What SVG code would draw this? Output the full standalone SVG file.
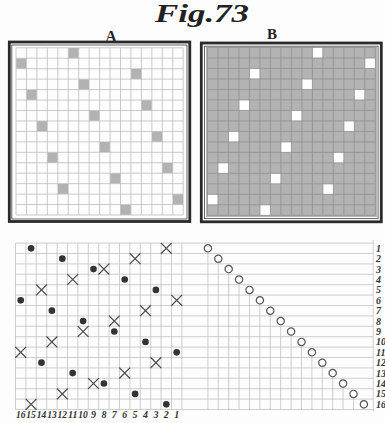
<svg xmlns="http://www.w3.org/2000/svg" xmlns:xlink="http://www.w3.org/1999/xlink" width="385" height="423" viewBox="0 0 385 423">
<style>
.frame{fill:none;stroke:#2a2a2a;stroke-width:2.8}
.inner{fill:none;stroke:#555;stroke-width:0.9}
.gridA{fill:none;stroke:#b4b4b4;stroke-width:0.7}
.gridB{fill:none;stroke:#8c8c8c;stroke-width:0.7}
.gridD{fill:none;stroke:#bababa;stroke-width:0.7}
.shade{fill:#b2b2b2}
.hole{fill:#ffffff}
.dot{fill:#333333}
.cross{fill:none;stroke:#4a4a4a;stroke-width:1.2}
.ring{fill:#ffffff;stroke:#555555;stroke-width:1.2}
.title{font-family:"Liberation Serif",serif;font-weight:bold;font-style:italic;fill:#222}
.letter{font-family:"Liberation Serif",serif;font-weight:bold;fill:#222}
.num{font-family:"Liberation Serif",serif;font-weight:bold;font-style:italic;font-size:10px;fill:#333}
</style>
<defs>
<path id="grid16" vector-effect="non-scaling-stroke" d="M0 0H16M0 1H16M0 2H16M0 3H16M0 4H16M0 5H16M0 6H16M0 7H16M0 8H16M0 9H16M0 10H16M0 11H16M0 12H16M0 13H16M0 14H16M0 15H16M0 16H16M0 0V16M1 0V16M2 0V16M3 0V16M4 0V16M5 0V16M6 0V16M7 0V16M8 0V16M9 0V16M10 0V16M11 0V16M12 0V16M13 0V16M14 0V16M15 0V16M16 0V16"/>
<path id="x" vector-effect="non-scaling-stroke" d="M-0.52 -0.52L0.52 0.52M0.52 -0.52L-0.52 0.52"/>
<circle id="d" r="0.32"/>
<circle id="o" r="0.35" vector-effect="non-scaling-stroke"/>
<rect id="sq" x="0.02" y="0.02" width="0.96" height="0.96"/>
</defs>
<rect width="385" height="423" fill="#fdfdfd"/>

<g id="title">
<text class="title" x="155" y="22" font-size="25" textLength="94" lengthAdjust="spacingAndGlyphs">Fig.73</text>
<text class="letter" x="111" y="41.8" font-size="16" text-anchor="middle">A</text>
<text class="letter" x="272" y="39.3" font-size="15" text-anchor="middle">B</text>
</g>

<g id="panel-a">
<rect class="frame" x="9.3" y="42" width="180.5" height="179.5"/>
<rect class="inner" x="11.8" y="45" width="175.2" height="174"/>
<g transform="translate(16,47.8) scale(10.45)">
<g class="shade">
<use xlink:href="#sq" x="5" y="0"/><use xlink:href="#sq" x="0" y="1"/><use xlink:href="#sq" x="11" y="2"/><use xlink:href="#sq" x="6" y="3"/>
<use xlink:href="#sq" x="1" y="4"/><use xlink:href="#sq" x="12" y="5"/><use xlink:href="#sq" x="7" y="6"/><use xlink:href="#sq" x="2" y="7"/>
<use xlink:href="#sq" x="13" y="8"/><use xlink:href="#sq" x="8" y="9"/><use xlink:href="#sq" x="3" y="10"/><use xlink:href="#sq" x="14" y="11"/>
<use xlink:href="#sq" x="9" y="12"/><use xlink:href="#sq" x="4" y="13"/><use xlink:href="#sq" x="15" y="14"/><use xlink:href="#sq" x="10" y="15"/>
</g>
<use xlink:href="#grid16" class="gridA"/>
</g>
</g>

<g id="panel-b">
<rect class="frame" x="201.3" y="43" width="180" height="178.8"/>
<rect class="inner" x="204.5" y="46.2" width="173.6" height="172.4"/>
<rect x="206" y="47" width="171" height="170" fill="#b3b3b3"/>
<g transform="translate(207.5,47.5) scale(10.49)">
<g class="hole">
<use xlink:href="#sq" x="10" y="0"/><use xlink:href="#sq" x="15" y="1"/><use xlink:href="#sq" x="4" y="2"/><use xlink:href="#sq" x="9" y="3"/>
<use xlink:href="#sq" x="14" y="4"/><use xlink:href="#sq" x="3" y="5"/><use xlink:href="#sq" x="8" y="6"/><use xlink:href="#sq" x="13" y="7"/>
<use xlink:href="#sq" x="2" y="8"/><use xlink:href="#sq" x="7" y="9"/><use xlink:href="#sq" x="12" y="10"/><use xlink:href="#sq" x="1" y="11"/>
<use xlink:href="#sq" x="6" y="12"/><use xlink:href="#sq" x="11" y="13"/><use xlink:href="#sq" x="0" y="14"/><use xlink:href="#sq" x="5" y="15"/>
</g>
<use xlink:href="#grid16" class="gridB"/>
</g>
</g>

<g id="draft" transform="translate(15.5,243.1) scale(10.4)">
<use xlink:href="#grid16" class="gridD"/>
<path class="gridD" vector-effect="non-scaling-stroke" d="M16 0H34.4M16 1H34.4M16 2H34.4M16 3H34.4M16 4H34.4M16 5H34.4M16 6H34.4M16 7H34.4M16 8H34.4M16 9H34.4M16 10H34.4M16 11H34.4M16 12H34.4M16 13H34.4M16 14H34.4M16 15H34.4M16 16H34.4M34.4 -0.3V16.2"/>
<path class="gridD" vector-effect="non-scaling-stroke" d="M18.5 0.85V16M19.5 1.85V16M20.5 2.85V16M21.5 3.85V16M22.5 4.85V16M23.5 5.85V16M24.5 6.85V16M25.5 7.85V16M26.5 8.85V16M27.5 9.85V16M28.5 10.85V16M29.5 11.85V16M30.5 12.85V16M31.5 13.85V16M32.5 14.85V16M33.5 15.85V16"/>
<g class="dot">
<use xlink:href="#d" x="1.5" y="0.5"/><use xlink:href="#d" x="4.5" y="1.5"/><use xlink:href="#d" x="7.5" y="2.5"/><use xlink:href="#d" x="10.5" y="3.5"/>
<use xlink:href="#d" x="13.5" y="4.5"/><use xlink:href="#d" x="0.5" y="5.5"/><use xlink:href="#d" x="3.5" y="6.5"/><use xlink:href="#d" x="6.5" y="7.5"/>
<use xlink:href="#d" x="9.5" y="8.5"/><use xlink:href="#d" x="12.5" y="9.5"/><use xlink:href="#d" x="15.5" y="10.5"/><use xlink:href="#d" x="2.5" y="11.5"/>
<use xlink:href="#d" x="5.5" y="12.5"/><use xlink:href="#d" x="8.5" y="13.5"/><use xlink:href="#d" x="11.5" y="14.5"/><use xlink:href="#d" x="14.5" y="15.5"/>
</g>
<g class="cross">
<use xlink:href="#x" x="14.5" y="0.5"/><use xlink:href="#x" x="11.5" y="1.5"/><use xlink:href="#x" x="8.5" y="2.5"/><use xlink:href="#x" x="5.5" y="3.5"/>
<use xlink:href="#x" x="2.5" y="4.5"/><use xlink:href="#x" x="15.5" y="5.5"/><use xlink:href="#x" x="12.5" y="6.5"/><use xlink:href="#x" x="9.5" y="7.5"/>
<use xlink:href="#x" x="6.5" y="8.5"/><use xlink:href="#x" x="3.5" y="9.5"/><use xlink:href="#x" x="0.5" y="10.5"/><use xlink:href="#x" x="13.5" y="11.5"/>
<use xlink:href="#x" x="10.5" y="12.5"/><use xlink:href="#x" x="7.5" y="13.5"/><use xlink:href="#x" x="4.5" y="14.5"/><use xlink:href="#x" x="1.5" y="15.5"/>
</g>
<g class="ring">
<use xlink:href="#o" x="18.5" y="0.5"/><use xlink:href="#o" x="19.5" y="1.5"/><use xlink:href="#o" x="20.5" y="2.5"/><use xlink:href="#o" x="21.5" y="3.5"/>
<use xlink:href="#o" x="22.5" y="4.5"/><use xlink:href="#o" x="23.5" y="5.5"/><use xlink:href="#o" x="24.5" y="6.5"/><use xlink:href="#o" x="25.5" y="7.5"/>
<use xlink:href="#o" x="26.5" y="8.5"/><use xlink:href="#o" x="27.5" y="9.5"/><use xlink:href="#o" x="28.5" y="10.5"/><use xlink:href="#o" x="29.5" y="11.5"/>
<use xlink:href="#o" x="30.5" y="12.5"/><use xlink:href="#o" x="31.5" y="13.5"/><use xlink:href="#o" x="32.5" y="14.5"/><use xlink:href="#o" x="33.5" y="15.5"/>
</g>
</g>

<g id="row-labels" class="num">
<text x="376" y="251.8">1</text><text x="376" y="262.2">2</text><text x="376" y="272.6">3</text><text x="376" y="283">4</text>
<text x="376" y="293.4">5</text><text x="376" y="303.8">6</text><text x="376" y="314.2">7</text><text x="376" y="324.6">8</text>
<text x="376" y="335">9</text><text x="376" y="345.4">10</text><text x="376" y="355.8">11</text><text x="376" y="366.2">12</text>
<text x="376" y="376.6">13</text><text x="376" y="387">14</text><text x="376" y="397.4">15</text><text x="376" y="407.8">16</text>
</g>

<g id="column-labels" class="num" text-anchor="middle">
<text x="20.7" y="418" textLength="9.5" lengthAdjust="spacingAndGlyphs">16</text>
<text x="31.1" y="418" textLength="9.5" lengthAdjust="spacingAndGlyphs">15</text>
<text x="41.5" y="418" textLength="9.5" lengthAdjust="spacingAndGlyphs">14</text>
<text x="51.9" y="418" textLength="9.5" lengthAdjust="spacingAndGlyphs">13</text>
<text x="62.3" y="418" textLength="9.5" lengthAdjust="spacingAndGlyphs">12</text>
<text x="72.7" y="418" textLength="9.5" lengthAdjust="spacingAndGlyphs">11</text>
<text x="83.1" y="418" textLength="9.5" lengthAdjust="spacingAndGlyphs">10</text>
<text x="93.5" y="418">9</text><text x="103.9" y="418">8</text><text x="114.3" y="418">7</text><text x="124.7" y="418">6</text>
<text x="135.1" y="418">5</text><text x="145.5" y="418">4</text><text x="155.9" y="418">3</text><text x="166.3" y="418">2</text><text x="176.7" y="418">1</text>
</g>
</svg>
